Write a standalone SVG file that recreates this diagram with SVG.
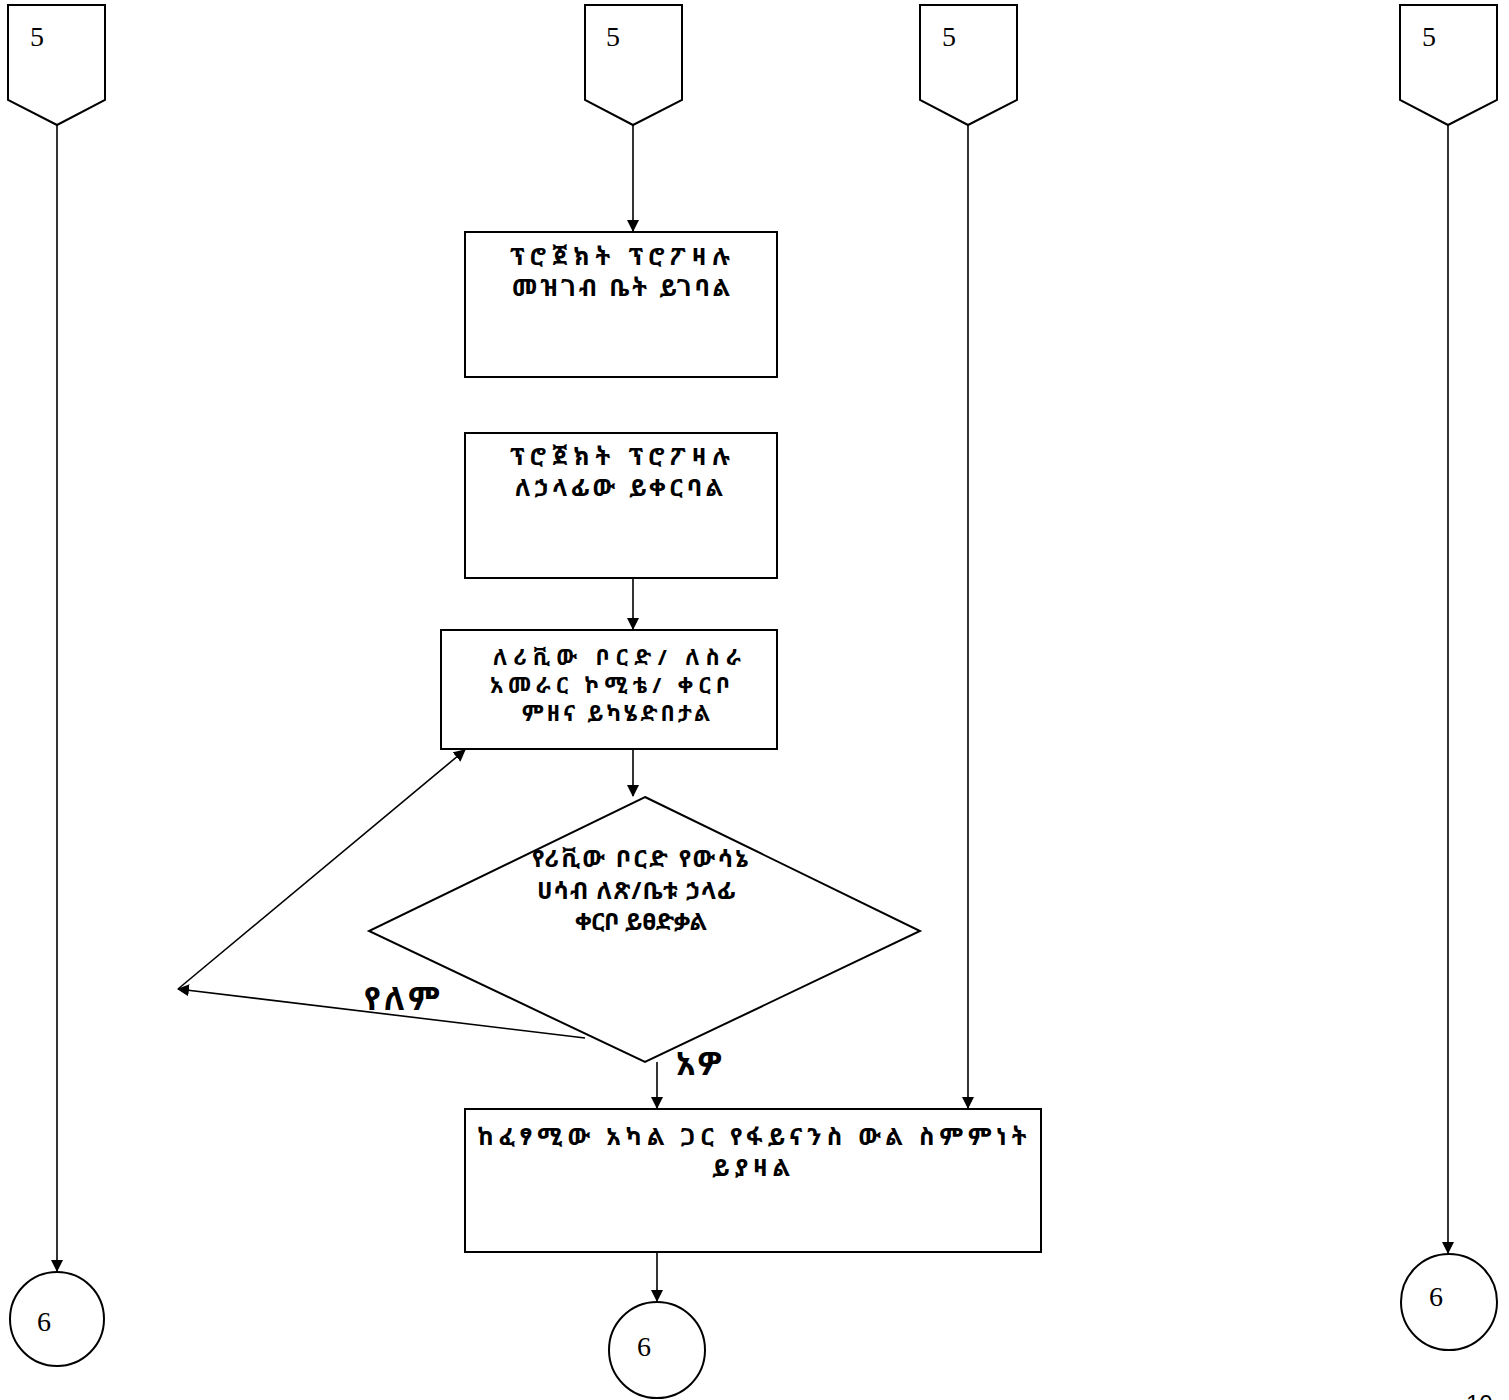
<svg xmlns="http://www.w3.org/2000/svg" width="1509" height="1400" viewBox="0 0 1509 1400">
<style>
.s{fill:#fff;stroke:#000;stroke-width:2}
.c{fill:none;stroke:#000;stroke-width:1.6}
.n{font-family:"Liberation Serif","DejaVu Serif",serif;font-size:28px;fill:#000}
.t{font-family:"Noto Sans Ethiopic","Abyssinica SIL","Noto Serif Ethiopic","DejaVu Sans","Noto Sans",sans-serif;font-size:24px;font-weight:bold;fill:#000;text-anchor:middle}
.u{font-size:22px}
.l{font-family:"Noto Sans Ethiopic","Abyssinica SIL","Noto Serif Ethiopic","DejaVu Sans","Noto Sans",sans-serif;font-size:32px;font-weight:bold;fill:#000}
</style>
<defs>
<marker id="a" markerWidth="12" markerHeight="12" refX="11" refY="6" orient="auto" markerUnits="userSpaceOnUse" viewBox="0 0 12 12">
<path d="M0,0 L12,6 L0,12 Z" fill="#000"/>
</marker>
</defs>
<rect width="1509" height="1400" fill="#fff"/>
<g id="connectors">
<line class="c" x1="57" y1="125" x2="57" y2="1271" marker-end="url(#a)"/>
<line class="c" x1="633" y1="125" x2="633" y2="231" marker-end="url(#a)"/>
<line class="c" x1="633" y1="578" x2="633" y2="629" marker-end="url(#a)"/>
<line class="c" x1="633" y1="749" x2="633" y2="796" marker-end="url(#a)"/>
<line class="c" x1="657" y1="1062" x2="657" y2="1108" marker-end="url(#a)"/>
<line class="c" x1="968" y1="125" x2="968" y2="1108" marker-end="url(#a)"/>
<line class="c" x1="657" y1="1252" x2="657" y2="1301" marker-end="url(#a)"/>
<line class="c" x1="1448" y1="125" x2="1448" y2="1253" marker-end="url(#a)"/>
<line class="c" x1="585" y1="1038" x2="178" y2="989" marker-end="url(#a)"/>
<line class="c" x1="178" y1="989" x2="465" y2="750" marker-end="url(#a)"/>
<text class="l" x="364" y="1010" textLength="76" lengthAdjust="spacing">የለም</text>
<text class="l" x="676" y="1075" textLength="46" lengthAdjust="spacing">አዎ</text>
</g>
<g id="off1"><polygon class="s" points="8,5 105,5 105,100 57,125 8,100"/><text class="n" x="30" y="46">5</text></g>
<g id="off2"><polygon class="s" points="585,5 682,5 682,100 633,125 585,100"/><text class="n" x="606" y="46">5</text></g>
<g id="off3"><polygon class="s" points="920,5 1017,5 1017,100 968,125 920,100"/><text class="n" x="942" y="46">5</text></g>
<g id="off4"><polygon class="s" points="1400,5 1497,5 1497,100 1448,125 1400,100"/><text class="n" x="1422" y="46">5</text></g>
<g id="box1"><rect class="s" x="465" y="232" width="312" height="145"/>
<text class="t" x="620" y="265" textLength="220" lengthAdjust="spacing">ፕሮጀክት ፕሮፖዛሉ</text><text class="t" x="621" y="296" textLength="218" lengthAdjust="spacing">መዝገብ ቤት ይገባል</text></g>
<g id="box2"><rect class="s" x="465" y="433" width="312" height="145"/>
<text class="t" x="620" y="465" textLength="220" lengthAdjust="spacing">ፕሮጀክት ፕሮፖዛሉ</text><text class="t" x="619" y="496" textLength="208" lengthAdjust="spacing">ለኃላፊው ይቀርባል</text></g>
<g id="box3"><rect class="s" x="441" y="630" width="336" height="119"/>
<text class="t u" x="617" y="665" textLength="248" lengthAdjust="spacing">ለሪቪው ቦርድ/ ለስራ</text><text class="t u" x="610" y="693" textLength="240" lengthAdjust="spacing">አመራር ኮሚቴ/ ቀርቦ</text><text class="t u" x="616" y="721" textLength="188" lengthAdjust="spacing">ምዘና ይካሄድበታል</text></g>
<g id="decision"><polygon class="s" points="645,797 920,931 645,1062 369,931"/>
<text class="t" x="640" y="867" textLength="216" lengthAdjust="spacing">የሪቪው ቦርድ የውሳኔ</text><text class="t" x="636" y="899" textLength="198" lengthAdjust="spacing">ሀሳብ ለጽ/ቤቱ ኃላፊ</text><text class="t" x="641" y="930" textLength="132" lengthAdjust="spacing">ቀርቦ ይፀድቃል</text></g>
<g id="box4"><rect class="s" x="465" y="1109" width="576" height="143"/>
<text class="t" x="752" y="1145" textLength="549" lengthAdjust="spacing">ከፈፃሚው አካል ጋር የፋይናንስ ውል ስምምነት</text><text class="t" x="751" y="1176" textLength="78" lengthAdjust="spacing">ይያዛል</text></g>
<g id="c1"><circle class="s" cx="57" cy="1319" r="47"/><text class="n" x="37" y="1331">6</text></g>
<g id="c2"><circle class="s" cx="657" cy="1350" r="48"/><text class="n" x="637" y="1356">6</text></g>
<g id="c4"><circle class="s" cx="1449" cy="1302" r="48"/><text class="n" x="1429" y="1306">6</text></g>
<text x="1466" y="1412" style="font-family:'Liberation Sans',Arial,sans-serif;font-size:24px;fill:#000">10</text>
</svg>
